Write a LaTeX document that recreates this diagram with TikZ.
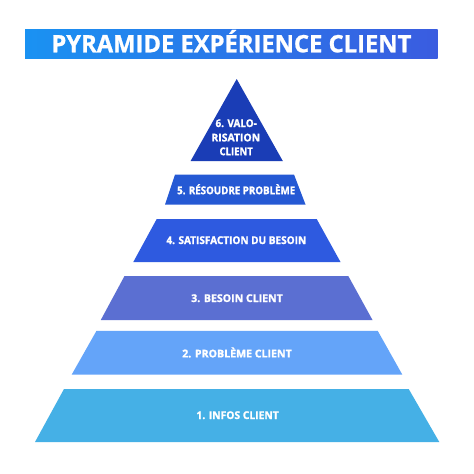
\documentclass[tikz,border=0pt]{standalone}
\usepackage{fontspec}
\usepackage{graphicx}
\setmainfont{Open Sans}[BoldFeatures={FakeBold=1.5}]
\newfontfamily\titlefont{Open Sans}[UprightFont=* Bold,UprightFeatures={FakeBold=1}]
\usetikzlibrary{shadings}
\newcommand{\fitw}[2]{\resizebox{#1pt}{\height}{#2}}
\definecolor{titleL}{HTML}{1A92F2}
\definecolor{titleR}{HTML}{3A5CE0}
\definecolor{lvlA}{HTML}{45B0E6}
\definecolor{lvlB}{HTML}{64A4F9}
\definecolor{lvlC}{HTML}{5B6FD2}
\definecolor{lvlD}{HTML}{2E5AE0}
\definecolor{lvlE}{HTML}{2559D4}
\definecolor{lvlF}{HTML}{1A3DB6}
\begin{document}
\begin{tikzpicture}[x=1pt,y=-1pt,
  lbl/.style={text=white,font=\bfseries\fontsize{10.7}{13.5}\selectfont,inner sep=0pt,anchor=base},
  ttl/.style={text=white,font=\titlefont\fontsize{24}{28}\selectfont,inner sep=0pt,anchor=base}]
\useasboundingbox[fill=white] (0,0) rectangle (474,474);
% title bar
\shade[left color=titleL,right color=titleR] (25,29.3) rectangle (437.7,58);
\node[ttl] (title) at (231.4,52.3) {\fitw{360}{PYRAMIDE EXPÉRIENCE CLIENT}};
% levels
\fill[lvlF] (236.7,79) -- (282.8,161) -- (190.6,161) -- cycle;
\fill[lvlE] (175,174.5) -- (294,174.5) -- (305.5,204.5) -- (165,204.5) -- cycle;
\fill[lvlD] (156.7,219) -- (316.7,219) -- (340.5,262) -- (133.3,262) -- cycle;
\fill[lvlC] (124.5,276) -- (348.3,276) -- (372.5,320) -- (100.8,320) -- cycle;
\fill[lvlB] (96.5,330.8) -- (377.7,330.8) -- (402.3,374.6) -- (71.7,374.6) -- cycle;
\fill[lvlA] (64,389) -- (408.7,389) -- (439.3,442) -- (35,442) -- cycle;
% labels
\node[lbl] (l6a) at (236.2,127) {\fitw{41.3}{6. VALO-}};
\node[lbl] (l6b) at (235.8,141.4) {\fitw{48.7}{RISATION}};
\node[lbl] (l6c) at (236.2,155.2) {\fitw{33.3}{CLIENT}};
\node[lbl] (l5) at (236.2,194.2) {\fitw{118}{5. RÉSOUDRE PROBLÈME}};
\node[lbl] (l4) at (236.3,244) {\fitw{139.7}{4. SATISFACTION DU BESOIN}};
\node[lbl] (l3) at (237,302) {\fitw{91.6}{3. BESOIN CLIENT}};
\node[lbl] (l2) at (237,357.4) {\fitw{109.6}{2. PROBLÈME CLIENT}};
\node[lbl] (l1) at (237.6,419) {\fitw{82.3}{1. INFOS CLIENT}};
\end{tikzpicture}
\end{document}
